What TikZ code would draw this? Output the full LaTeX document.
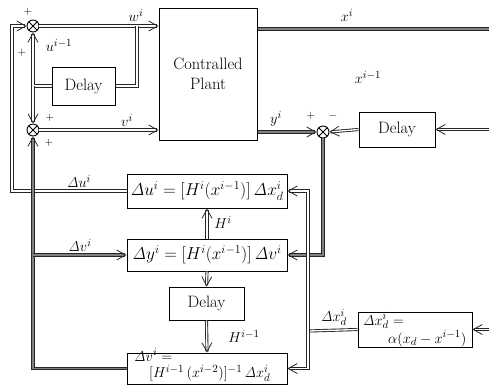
\documentclass[tikz,border=0pt]{standalone}
\usetikzlibrary{arrows.meta}
\begin{document}
\begin{tikzpicture}[x=1pt,y=-1pt,
  every node/.style={font=\fontsize{15}{17}\selectfont},
  blk/.style={draw, line width=1pt, inner sep=0pt},
  eq/.style={font=\fontsize{16.5}{18}\selectfont},
  conn/.style={draw=black!85, line width=0.9pt, double=white, double distance=1.3pt},
  thk/.style={conn, double=black!50},
  arr/.style={-{Straight Barb[length=9pt,width=10pt,line width=0.8pt]}},
  sumj/.style={circle, draw, fill=white, line width=0.9pt, minimum size=12pt, inner sep=0pt,
    path picture={\draw[line width=0.8pt] (path picture bounding box.north west)--(path picture bounding box.south east)
      (path picture bounding box.north east)--(path picture bounding box.south west);}},
  pm/.style={inner sep=0pt, font=\fontsize{11}{12}\selectfont},
  txt/.style={inner sep=0pt}
]
\useasboundingbox (0,0) rectangle (489,384);

% blocks
\node[blk, minimum width=98pt, minimum height=132pt, align=center, font=\fontsize{16.5}{20}\selectfont] (plant) at (208,74) {Contralled\\Plant};
\node[blk, minimum width=63pt, minimum height=38pt, font=\fontsize{16.5}{20}\selectfont] (D1) at (83.5,86) {Delay};
\node[blk, minimum width=76pt, minimum height=35pt, font=\fontsize{16.5}{20}\selectfont] (D2) at (397,129.5) {Delay};
\node[blk, eq, minimum width=160pt, minimum height=34pt] (Du) at (207,191) {$\mathit{\Delta}u^{i}=[H^{i}(x^{i-1})]\,\mathit{\Delta}x^{i}_{d}$};
\node[blk, eq, minimum width=160pt, minimum height=32pt] (Dy) at (207,255) {$\mathit{\Delta}y^{i}=[H^{i}(x^{i-1})]\,\mathit{\Delta}v^{i}$};
\node[blk, minimum width=75pt, minimum height=33pt, font=\fontsize{16.5}{20}\selectfont] (D3) at (206.5,303.5) {Delay};
\node[blk, minimum width=160pt, minimum height=31pt] (Dv) at (207,368.5) {};
\node[blk, minimum width=114pt, minimum height=35pt] (Dx) at (415,329.5) {};
\node[txt, anchor=base west] (Dvt1) at (134,361) {$\mathit{\Delta}v^{i}=$};
\node[txt, anchor=base west] (Dvt2) at (149,377.5) {$[H^{i-1}\,(x^{i-2})]^{-1}\,\mathit{\Delta}x^{i}_{d}$};
\node[txt, anchor=base west] (Dxt1) at (363,325) {$\mathit{\Delta}x^{i}_{d}=$};
\node[txt, anchor=base west] (Dxt2) at (388,343) {$\alpha(x_{d}-x^{i-1})$};

% summing junctions
\node[sumj] (J1) at (33,26) {};
\node[sumj] (J2) at (33,130) {};
\node[sumj] (J3) at (323,132) {};

% coordinates
\coordinate (wb) at (137,26);
\coordinate (uj) at (33,86);
\coordinate (lc) at (12,191);
\coordinate (vb) at (33,255);
\coordinate (xj) at (308,331);
\coordinate (xout) at (489,29);
\coordinate (rin1) at (489,129.5);
\coordinate (rin2) at (489,329.5);

% connectors
\draw[conn,arr] (J1.east) -- (J1 -| plant.west);
\draw[conn] (wb) |- (D1.east);
\draw[conn,arr] (D1.west) -| (J1.south);
\draw[conn,arr] (uj) -- (J2.north);
\draw[conn,arr] (J2.east) -- (J2 -| plant.west);
\draw[thk] (plant.east |- xout) -- (xout);
\draw[thk,arr] (plant.east |- J3) -- (J3.west);
\draw[conn,arr] (rin1) -- (D2.east);
\draw[conn,arr] (D2.west) -- (J3.east);
\draw[thk,arr] (J3.south) |- (Dy.east);
\draw[conn,arr] (Du.west) -- (lc) |- (J1.west);
\draw[thk,arr] (Dv.west) -| (J2.south);
\draw[thk,arr] (vb) -- (Dy.west);
\draw[conn,arr] (Dy.north) -- (Du.south);
\draw[conn,arr] (Dy.south) -- (D3.north);
\draw[conn,arr] (D3.south) -- (Dv.north);
\draw[conn] (Dx.west) -- (xj);
\draw[conn,arr] (xj) |- (Du.east);
\draw[conn,arr] (xj) |- (Dv.east);
\draw[conn,arr] (rin2) -- (Dx.east);

% labels
\node[txt] at (136,15) {$w^{i}$};
\node[txt] at (59,45) {$u^{i-1}$};
\node[txt] at (127,120) {$v^{i}$};
\node[txt] at (347,15) {$x^{i}$};
\node[txt] at (368,77) {$x^{i-1}$};
\node[txt] at (276,119) {$y^{i}$};
\node[txt] at (79,181) {$\mathit{\Delta}u^{i}$};
\node[txt] at (80,245) {$\mathit{\Delta}v^{i}$};
\node[txt] at (223,222) {$H^{i}$};
\node[txt] at (244,336) {$H^{i-1}$};
\node[txt] at (334,317) {$\mathit{\Delta}x^{i}_{d}$};
\node[pm] at (28,12) {$+$};
\node[pm] at (22,53) {$+$};
\node[pm] at (50,118) {$+$};
\node[pm] at (49,143) {$+$};
\node[pm] at (311,116) {$+$};
\node[pm] at (333,116) {$-$};
\end{tikzpicture}
\end{document}
